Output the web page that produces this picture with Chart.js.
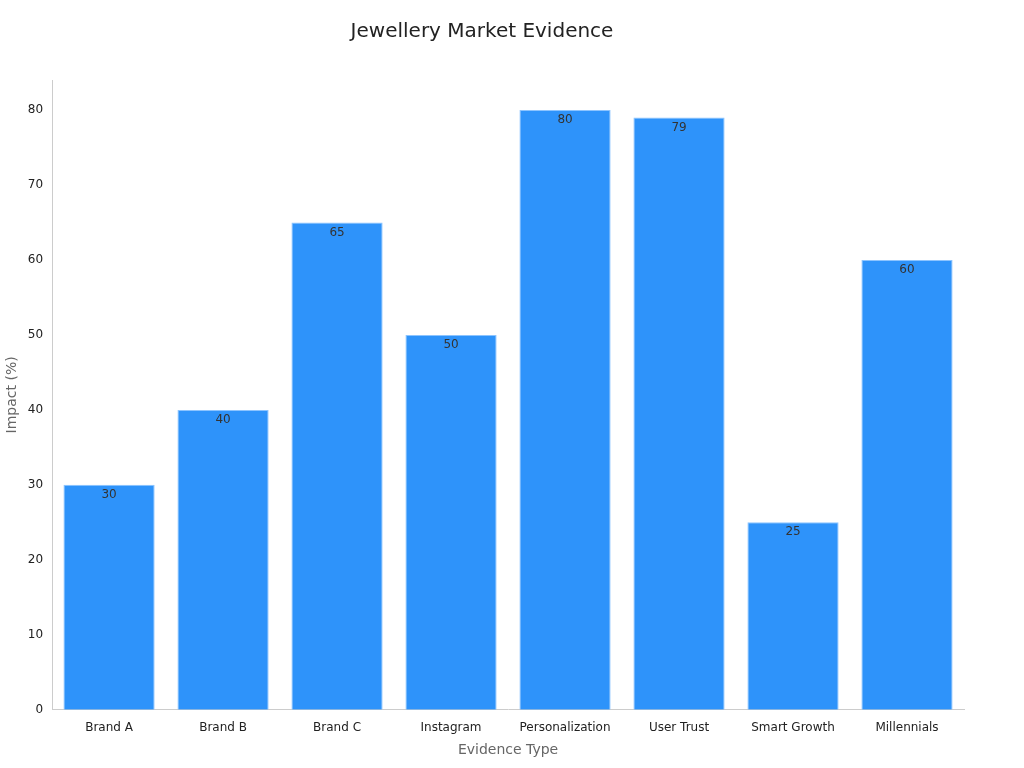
<!DOCTYPE html>
<html><head><meta charset="utf-8">
<script src="https://cdn.jsdelivr.net/npm/chart.js@4"></script>
<style>html,body{margin:0;padding:0;background:#fff}#w{width:1024px;height:768px}</style>
</head><body><div id="w"><canvas id="c"></canvas></div>
<script>
const categories = ["Brand A","Brand B","Brand C","Instagram","Personalization","User Trust","Smart Growth","Millennials"];
const impactValues = [30,40,65,50,80,79,25,60];
const yTicks = [0,10,20,30,40,50,60,70,80];

Chart.defaults.font.family = "'DejaVu Sans', sans-serif";
const labelPlugin = {
  id: 'vals',
  afterDatasetsDraw(chart) {
    const ctx = chart.ctx;
    const meta = chart.getDatasetMeta(0);
    ctx.save();
    ctx.font = "12px 'DejaVu Sans'";
    ctx.fillStyle = '#333';
    ctx.textAlign = 'center';
    ctx.textBaseline = 'top';
    meta.data.forEach((bar, i) => {
      ctx.fillText(String(impactValues[i]), bar.x, bar.y + 4);
    });
    ctx.restore();
  }
};
new Chart(document.getElementById('c'), {
  type: 'bar',
  data: { labels: categories, datasets: [{ data: impactValues, backgroundColor: '#2e93fa', borderColor: '#8cc4ff', borderWidth: 1, barPercentage: 0.8, categoryPercentage: 1.0 }] },
  options: {
    responsive: true, maintainAspectRatio: false, animation: false,
    layout: { padding: { top: 10, right: 60, left: 0, bottom: 5 } },
    plugins: {
      legend: { display: false }, tooltip: { enabled: false },
      title: { display: true, text: 'Jewellery Market Evidence', color: '#222', font: { size: 20, weight: 'normal' }, padding: { top: 10, bottom: 36 } }
    },
    scales: {
      x: { grid: { display: false, drawTicks: true }, border: { color: '#ccc' },
           ticks: { color: '#222', font: { size: 12 } },
           title: { display: true, text: 'Evidence Type', color: '#666', font: { size: 14 } } },
      y: { min: 0, max: 84, grid: { display: false, drawTicks: true, tickLength: 6 }, border: { color: '#ccc' },
           afterBuildTicks: (s) => { s.ticks = yTicks.map(v => ({ value: v })); },
           ticks: { color: '#222', font: { size: 12 } },
           title: { display: true, text: 'Impact (%)', color: '#666', font: { size: 14 } } }
    }
  },
  plugins: [labelPlugin]
});
</script></body></html>
